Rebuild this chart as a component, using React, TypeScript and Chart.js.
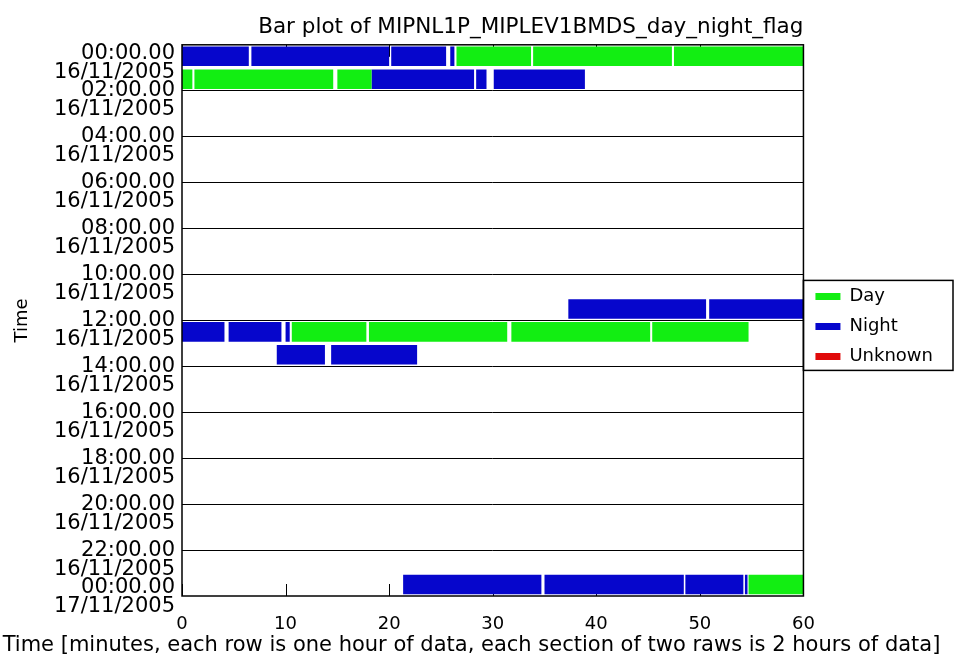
import React, { useEffect, useRef } from "react";
import { Chart, registerables } from "chart.js";

Chart.register(...registerables);

const chartTitle = "Bar plot of MIPNL1P_MIPLEV1BMDS_day_night_flag";
const xAxisTitle =
  "Time [minutes, each row is one hour of data, each section of two raws is 2 hours of data]";
const yAxisTitle = "Time";

const flagNames = ["Day", "Night", "Unknown"];
const flagColors = ["#12ee12", "#0606cc", "#e00a0a"];

const tickTimes = [
  "00:00.00", "02:00.00", "04:00.00", "06:00.00", "08:00.00", "10:00.00", "12:00.00",
  "14:00.00", "16:00.00", "18:00.00", "20:00.00", "22:00.00", "00:00.00",
];
const tickDates = [
  "16/11/2005", "16/11/2005", "16/11/2005", "16/11/2005", "16/11/2005", "16/11/2005",
  "16/11/2005", "16/11/2005", "16/11/2005", "16/11/2005", "16/11/2005", "16/11/2005",
  "17/11/2005",
];

// [hour row, start minute, end minute]
const daySegments: [number, number, number][] = [
  [0, 26.5, 33.7], [0, 33.9, 47.3], [0, 47.5, 60],
  [1, 0, 1.0], [1, 1.2, 14.6], [1, 15.0, 18.3],
  [12, 10.6, 17.8], [12, 18.05, 31.4], [12, 31.8, 45.2], [12, 45.4, 54.7],
  [23, 54.7, 60],
];
const nightSegments: [number, number, number][] = [
  [0, 0, 6.45], [0, 6.7, 20.0], [0, 20.2, 25.5], [0, 25.9, 26.3],
  [1, 18.3, 28.2], [1, 28.4, 29.4], [1, 30.1, 38.9],
  [11, 37.3, 50.6], [11, 50.9, 60],
  [12, 0, 4.1], [12, 4.5, 9.6], [12, 10.0, 10.4],
  [13, 9.15, 13.8], [13, 14.4, 22.7],
  [23, 21.35, 34.7], [23, 35.0, 48.45], [23, 48.6, 54.2], [23, 54.35, 54.6],
];
const unknownSegments: [number, number, number][] = [];

const framePlugin = {
  id: "frameAndTicks",
  beforeDatasetsDraw(chart: any) {
    const { ctx, chartArea: a, scales } = chart;
    const x = scales.x;
    ctx.save();
    ctx.strokeStyle = "#000";
    ctx.lineWidth = 1;
    ctx.beginPath();
    for (const t of x.ticks) {
      const px = Math.round(x.getPixelForValue(t.value)) + 0.5;
      ctx.moveTo(px, a.bottom);
      ctx.lineTo(px, a.bottom - 12);
      ctx.moveTo(px, a.top);
      ctx.lineTo(px, a.top + 12);
    }
    ctx.stroke();
    ctx.restore();
  },
  afterDatasetsDraw(chart: any) {
    const { ctx, chartArea: a } = chart;
    ctx.save();
    ctx.strokeStyle = "#000";
    ctx.lineWidth = 1.5;
    ctx.strokeRect(a.left, a.top, a.right - a.left, a.bottom - a.top);
    ctx.restore();
  },
  afterDraw(chart: any) {
    const { ctx } = chart;
    const lg = chart.legend;
    const hb = lg && lg.legendHitBoxes;
    if (!hb || !hb.length) return;
    const top = hb[0].top - 7;
    const last = hb[hb.length - 1];
    const bottom = last.top + last.height + 5;
    const right = Math.max(...hb.map((h: any) => h.left + h.width)) + 20;
    ctx.save();
    ctx.strokeStyle = "#000";
    ctx.lineWidth = 1.5;
    ctx.strokeRect(lg.left, top, right - lg.left, bottom - top);
    ctx.restore();
  },
};

export default function App() {
  const ref = useRef<HTMLCanvasElement | null>(null);

  useEffect(() => {
    if (!ref.current) return;
    Chart.defaults.font.family = "'DejaVu Sans', sans-serif";
    Chart.defaults.color = "#000";

    const toData = (segs: [number, number, number][]) =>
      segs.map(([h, s, e]) => ({ x: [s, e], y: h + 0.5 }));
    const groups = [daySegments, nightSegments, unknownSegments];
    const datasets = groups.map((segs, i) => ({
      label: flagNames[i],
      data: toData(segs),
      backgroundColor: flagColors[i],
      borderColor: flagColors[i],
      borderWidth: 0,
    }));

    const chart = new Chart(ref.current, {
      type: "bar",
      data: { datasets } as any,
      options: {
        animation: false,
        responsive: false,
        indexAxis: "y",
        datasets: {
          bar: { grouped: false, barPercentage: 0.85, categoryPercentage: 1 },
        } as any,
        layout: { padding: { top: 0, right: 20, bottom: 0, left: 0 } },
        plugins: {
          title: {
            display: true,
            text: chartTitle,
            align: "end",
            fullSize: false,
            color: "#000",
            font: { size: 21.5, weight: "normal" },
            padding: { top: 15, bottom: 4 },
          },
          subtitle: {
            display: true,
            position: "bottom",
            fullSize: true,
            text: xAxisTitle,
            color: "#000",
            font: { size: 21, weight: "normal" },
            padding: { top: 0, bottom: 2 },
          },
          legend: {
            position: "right",
            fullSize: false,
            align: "center",
            title: { display: true, text: " ", padding: 0, font: { size: 10 } },
            labels: {
              boxWidth: 25,
              boxHeight: 7,
              padding: 12,
              color: "#000",
              font: { size: 18 },
            },
          },
          tooltip: { enabled: false },
        },
        scales: {
          x: {
            type: "linear",
            position: "bottom",
            min: 0,
            max: 60,
            ticks: { stepSize: 10, color: "#000", font: { size: 18 }, padding: 10 },
            grid: { display: false },
            border: { display: false },
            afterFit: (s: any) => {
              s.height = 36.8;
            },
          },
          y: {
            type: "linear",
            reverse: true,
            min: 0,
            max: 24,
            offset: false,
            afterBuildTicks: (s: any) => {
              // nudge the end labels inside the frame, as in the original plot
              s.ticks = s.ticks.map((t: any) =>
                t.value === s.min
                  ? { value: t.value + 0.4 }
                  : t.value === s.max
                  ? { value: t.value - 0.35 }
                  : t
              );
            },
            ticks: {
              stepSize: 2,
              autoSkip: false,
              color: "#000",
              font: { size: 21, lineHeight: 0.905 },
              padding: 7,
              labelOffset: 9.5,
              callback: (v: any) => [tickTimes[Math.round(v / 2)], tickDates[Math.round(v / 2)]],
            },
            grid: {
              offset: false,
              color: (c: any) =>
                c.tick && (c.tick.value % 2 !== 0) ? "rgba(0,0,0,0)" : "#000",
              lineWidth: 1,
              drawTicks: false,
            },
            border: { display: false },
            title: {
              display: true,
              text: yAxisTitle,
              color: "#000",
              font: { size: 18 },
              padding: { top: 12, bottom: 0 },
            },
            afterFit: (s: any) => {
              s.width = 182;
            },
          },
        } as any,
      },
      plugins: [framePlugin],
    } as any);

    return () => chart.destroy();
  }, []);

  return (
    <div style={{ position: "fixed", left: 0, top: 0, width: 963, height: 660, background: "#fff" }}>
      <canvas ref={ref} width={963} height={660} />
    </div>
  );
}
